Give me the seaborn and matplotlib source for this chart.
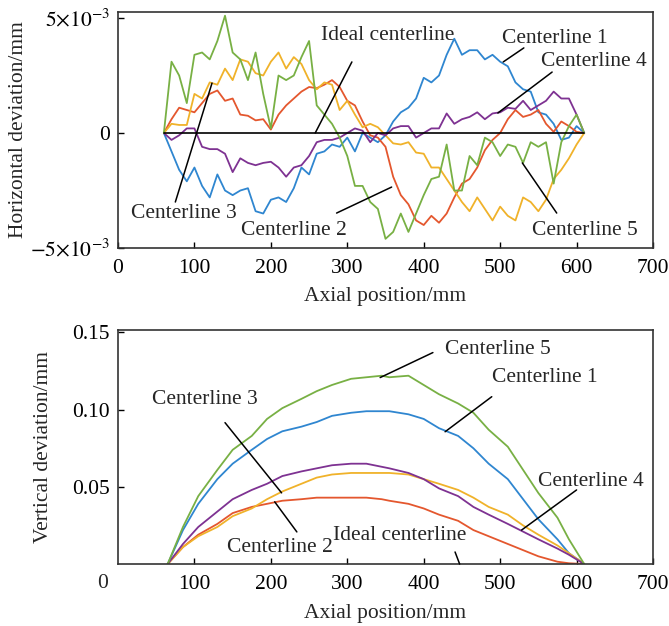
import matplotlib
matplotlib.use("Agg")
import matplotlib.pyplot as plt
import seaborn as sns
import pandas as pd

# ---- desvio horizontal (unidades de 1e-3 mm) ----
pos_h = [60, 70, 80, 90, 100, 110, 120, 130, 140, 150, 160, 170, 180, 190, 200,
         210, 220, 230, 240, 250, 260, 270, 280, 290, 300, 310, 320, 330, 340, 350,
         360, 370, 380, 390, 400, 410, 420, 430, 440, 450, 460, 470, 480, 490, 500,
         510, 520, 530, 540, 550, 560, 570, 580, 590, 600, 610]

h_linha1 = [0, -0.8, -1.6, -2.1, -1.5, -2.3, -2.8, -1.8, -2.5, -2.7, -2.5, -2.4, -3.4, -3.5, -2.9,
            -2.8, -3.0, -2.4, -1.5, -1.8, -0.9, -0.8, -0.5, -0.6, -0.2, -0.8, 0.0, -0.2, -0.4, -0.1,
            0.5, 0.9, 1.1, 1.5, 2.4, 2.2, 2.5, 3.4, 4.1, 3.4, 3.6, 3.6, 3.2, 3.4, 3.1,
            2.9, 2.2, 1.9, 1.8, 0.9, 0.8, 0.4, -0.3, -0.2, 0.3, 0]
h_linha2 = [0, 0.6, 1.1, 1.0, 0.9, 1.3, 1.7, 1.85, 1.4, 1.5, 0.8, 0.75, 0.55, 0.6, 0.15,
            0.8, 1.2, 1.5, 1.8, 2.0, 1.95, 2.1, 2.3, 2.0, 1.4, 1.2, 0.5, -0.1, -0.2, -0.6,
            -1.9, -2.7, -3.1, -3.8, -4.0, -3.6, -3.9, -3.5, -2.8, -2.2, -2.0, -1.5, -0.75, -0.3, 0.0,
            0.6, 1.0, 0.7, 0.8, 1.0, 0.4, 0.05, 0.5, 0.3, 0.05, 0]
h_linha3 = [0, 0.4, 0.35, 0.35, 1.7, 1.5, 2.2, 2.1, 2.8, 2.3, 3.2, 3.1, 2.6, 2.5, 3.1,
            3.5, 2.8, 3.3, 3.0, 2.3, 1.9, 2.2, 2.1, 1.0, 1.4, 0.8, 0.25, 0.4, 0.25, -0.1,
            -0.45, -0.5, -0.4, -0.85, -0.9, -1.5, -1.5, -2.0, -2.5, -3.0, -3.4, -2.8, -3.3, -3.8, -3.2,
            -3.6, -3.8, -2.8, -3.0, -3.4, -2.9, -2.0, -1.6, -1.1, -0.5, 0]
h_linha4 = [0, -0.3, -0.1, 0.2, 0.2, -0.6, -0.7, -0.7, -0.9, -1.7, -1.1, -1.3, -1.4, -1.3, -1.25,
            -1.5, -1.9, -1.5, -1.4, -1.0, -0.4, -0.3, -0.3, -0.2, 0.0, 0.2, 0.1, -0.4, 0.0, -0.1,
            0.2, 0.3, 0.3, -0.2, 0.0, 0.2, 0.2, 0.85, 0.4, 0.6, 0.7, 0.9, 0.6, 0.85, 0.9,
            1.1, 1.05, 1.4, 1.0, 1.2, 1.4, 1.8, 1.5, 1.5, 0.8, 0]
h_linha5 = [0, 3.1, 2.5, 1.3, 3.4, 3.5, 3.2, 4.0, 5.1, 3.5, 3.2, 2.3, 3.5, 1.7, 0.2,
            2.5, 2.3, 2.5, 3.3, 4.0, 1.2, 0.8, 0.4, -0.2, -1.0, -2.3, -2.3, -3.0, -3.3, -4.6,
            -4.3, -3.5, -4.3, -3.5, -2.7, -2.0, -1.9, -0.5, -2.5, -2.5, -1.0, -1.4, -0.2, -0.4, -1.0,
            -0.5, -0.6, -1.3, -0.4, -0.6, -0.4, -2.2, -0.4, 0.3, 0.8, 0]
h_ideal = [0] * len(pos_h)

# ---- desvio vertical (mm) ----
pos_v = [65, 85, 105, 130, 150, 175, 195, 215, 240, 260, 280, 305, 325, 345,
         355, 380, 400, 420, 445, 465, 485, 510, 530, 550, 575, 590, 610]
v_linha1 = [0, 0.022, 0.039, 0.055, 0.065, 0.074, 0.081, 0.086, 0.089, 0.092, 0.096, 0.098, 0.099, 0.099,
            0.099, 0.097, 0.094, 0.088, 0.083, 0.075, 0.065, 0.055, 0.042, 0.029, 0.016, 0.007, 0]
v_linha2 = [0, 0.011, 0.019, 0.026, 0.033, 0.037, 0.039, 0.041, 0.042, 0.043, 0.043, 0.043, 0.043, 0.042,
            0.041, 0.039, 0.036, 0.032, 0.028, 0.022, 0.018, 0.013, 0.009, 0.005, 0.0015, 0.0005, 0]
v_linha3 = [0, 0.011, 0.018, 0.024, 0.031, 0.036, 0.042, 0.047, 0.052, 0.056, 0.058, 0.059, 0.059, 0.059,
            0.059, 0.058, 0.055, 0.052, 0.048, 0.043, 0.037, 0.032, 0.025, 0.019, 0.012, 0.007, 0]
v_linha4 = [0, 0.013, 0.024, 0.034, 0.042, 0.048, 0.052, 0.057, 0.060, 0.062, 0.064, 0.065, 0.065, 0.063,
            0.062, 0.059, 0.055, 0.049, 0.044, 0.037, 0.032, 0.026, 0.021, 0.016, 0.010, 0.006, 0]
v_linha5 = [0, 0.024, 0.044, 0.061, 0.074, 0.083, 0.094, 0.101, 0.107, 0.112, 0.116, 0.120, 0.121, 0.122,
            0.121, 0.122, 0.116, 0.110, 0.104, 0.098, 0.087, 0.076, 0.061, 0.046, 0.030, 0.016, 0]

nomes = ["Centerline 1", "Centerline 2", "Centerline 3", "Centerline 4", "Centerline 5"]
cores = {"Centerline 1": "#2F86D0", "Centerline 2": "#E4572E", "Centerline 3": "#F0B22A",
         "Centerline 4": "#7E3292", "Centerline 5": "#78B044"}

# Data frames longos
df_h = pd.concat([pd.DataFrame({"pos": pos_h, "dev": [v * 1e-3 for v in s], "linha": n})
                  for n, s in zip(nomes, [h_linha1, h_linha2, h_linha3, h_linha4, h_linha5])])
df_v = pd.concat([pd.DataFrame({"pos": pos_v, "dev": s, "linha": n})
                  for n, s in zip(nomes, [v_linha1, v_linha2, v_linha3, v_linha4, v_linha5])])

sns.set_style("ticks")
plt.rcParams["font.family"] = ["Liberation Serif", "DejaVu Serif"]
plt.rcParams["mathtext.fontset"] = "stix"
plt.rcParams["font.size"] = 15.5

fig = plt.figure(figsize=(6.69, 6.26), dpi=100)
ax1 = fig.add_axes([0.1764, 0.6038, 0.7997, 0.377])
ax2 = fig.add_axes([0.1764, 0.0990, 0.7997, 0.3738])

sns.lineplot(data=df_h, x="pos", y="dev", hue="linha", palette=cores, estimator=None,
             sort=False, legend=False, linewidth=1.3, ax=ax1)
sns.lineplot(x=pos_h, y=h_ideal, color="black", linewidth=1.2, ax=ax1)
sns.lineplot(data=df_v, x="pos", y="dev", hue="linha", palette=cores, estimator=None,
             sort=False, legend=False, linewidth=1.3, ax=ax2)

for ax in (ax1, ax2):
    ax.set_xlim(0, 700)
    ax.tick_params(direction="in", length=4, width=1, colors="black", labelsize=15.5)
    ax.tick_params(axis="x", pad=8)
    ax.tick_params(axis="y", pad=6)
    for sp in ax.spines.values():
        sp.set_visible(True)
        sp.set_linewidth(1.2)
        sp.set_color("#333333")

# painel superior
ax1.set_ylim(-5e-3, 5.26e-3)
ax1.set_xticks([0, 100, 200, 300, 400, 500, 600, 700])
ax1.set_yticks([-5e-3, 0, 5e-3])
ax1.set_yticklabels([r"$-5{\times}10^{-3}$", "0", r"$5{\times}10^{-3}$"])
ax1.set_xlabel("Axial position/mm")
ax1.set_ylabel("Horizontal deviation/mm")
ax1.xaxis.set_label_coords(0.5, -0.165)
ax1.yaxis.set_label_coords(-0.168, 0.5)

# painel inferior
ax2.set_ylim(0, 0.1516)
ax2.set_xticks([100, 200, 300, 400, 500, 600, 700])
ax2.set_yticks([0.05, 0.10, 0.15])
ax2.set_yticklabels(["0.05", "0.10", "0.15"])
ax2.set_xlabel("Axial position/mm")
ax2.set_ylabel("Vertical deviation/mm")
ax2.xaxis.set_label_coords(0.5, -0.172)
ax2.yaxis.set_label_coords(-0.121, 0.5)
ax2.text(-19.6, -0.0123, "0", ha="center", va="center", clip_on=False)


def rotulo(ax, texto, pos_txt, p0, p1):
    ax.text(pos_txt[0], pos_txt[1], texto, ha="center", va="center", fontsize=15.5)
    ax.annotate("", xy=p1, xytext=p0,
                arrowprops=dict(arrowstyle="-", color="black", lw=1.1, shrinkA=0, shrinkB=0))


rotulo(ax1, "Ideal centerline", (353, 4.26e-3), (306, 3.09e-3), (258, 0))
rotulo(ax1, "Centerline 1", (572, 4.13e-3), (531, 3.7e-3), (504, 3.09e-3))
rotulo(ax1, "Centerline 4", (623, 3.09e-3), (568, 2.65e-3), (497, 0.87e-3))
rotulo(ax1, "Centerline 5", (611, -4.22e-3), (574, -3.48e-3), (529, -1.3e-3))
rotulo(ax1, "Centerline 3", (86, -3.48e-3), (75, -3.0e-3), (123, 2.17e-3))
rotulo(ax1, "Centerline 2", (230, -4.22e-3), (286, -3.48e-3), (358, -2.35e-3))

rotulo(ax2, "Centerline 3", (114, 0.1065), (140, 0.0916), (214, 0.0461))
rotulo(ax2, "Centerline 2", (212, 0.011), (234, 0.0208), (205, 0.0403))
rotulo(ax2, "Ideal centerline", (369, 0.0188), (441, 0.0078), (447, 0))
rotulo(ax2, "Centerline 5", (497, 0.139), (412, 0.137), (343, 0.1208))
rotulo(ax2, "Centerline 1", (559, 0.1208), (489, 0.1084), (428, 0.0857))
rotulo(ax2, "Centerline 4", (619, 0.0532), (600, 0.048), (528, 0.022))

fig.savefig("out.png", dpi=100)
